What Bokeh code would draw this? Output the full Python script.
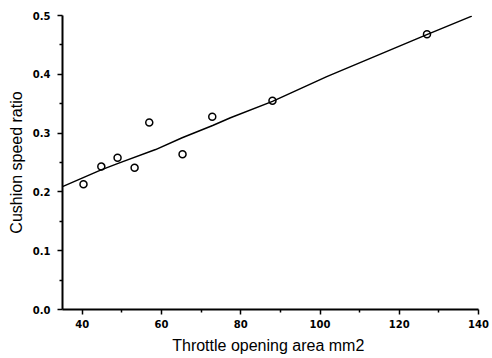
from bokeh.plotting import figure
from bokeh.embed import file_html
from bokeh.resources import INLINE
from bokeh.models import Range1d, FixedTicker, NumeralTickFormatter

# measured points
area = [40.3, 44.8, 48.9, 53.2, 56.9, 65.3, 72.8, 88.0, 127.0]
ratio = [0.213, 0.243, 0.258, 0.241, 0.318, 0.264, 0.328, 0.355, 0.468]

# fitted curve as drawn in the reference
fit_x = [35.0, 44.6, 49.2, 58.5, 65.2, 72.9, 77.4, 88.0, 101.7, 126.8, 138.3]
fit_y = [0.209, 0.237, 0.249, 0.272, 0.292, 0.313, 0.326, 0.354, 0.396, 0.467, 0.499]

x_ticks = [40, 60, 80, 100, 120, 140]
x_minor = [50, 70, 90, 110, 130]
y_ticks = [0.0, 0.1, 0.2, 0.3, 0.4, 0.5]
y_minor = [0.05, 0.15, 0.25, 0.35, 0.45]
x_title = "Throttle opening area  mm2"
y_title = "Cushion speed ratio"

p = figure(width=492, height=358, output_backend="svg", toolbar_location=None,
           x_range=Range1d(35, 140), y_range=Range1d(0, 0.5),
           min_border_left=62, min_border_right=14, min_border_top=15, min_border_bottom=49)
p.outline_line_color = None
p.grid.grid_line_color = None
p.background_fill_color = "white"
p.border_fill_color = "white"

p.line(fit_x, fit_y, line_color="black", line_width=1.5)
p.scatter(area, ratio, marker="circle", size=7, fill_color=None,
          line_color="black", line_width=1.5)

for ax in (p.xaxis[0], p.yaxis[0]):
    ax.axis_line_width = 2
    ax.axis_line_color = "black"
    ax.major_tick_line_width = 1.5
    ax.minor_tick_line_width = 1.5
    ax.major_tick_out = 5
    ax.major_tick_in = 0
    ax.minor_tick_out = 3
    ax.minor_tick_in = 0
    ax.major_label_text_font = "DejaVu Sans"
    ax.major_label_text_font_style = "bold"
    ax.major_label_text_font_size = "10px"
    ax.major_label_text_color = "black"
    ax.axis_label_text_font = "Liberation Sans"
    ax.axis_label_text_font_style = "normal"
    ax.axis_label_text_font_size = "16px"
    ax.axis_label_text_color = "black"

p.xaxis.ticker = FixedTicker(ticks=x_ticks, minor_ticks=x_minor)
p.yaxis.ticker = FixedTicker(ticks=y_ticks, minor_ticks=y_minor)
p.yaxis.formatter = NumeralTickFormatter(format="0.0")
p.xaxis.axis_label = x_title
p.yaxis.axis_label = y_title
p.xaxis.major_label_standoff = 5
p.yaxis.major_label_standoff = 7
p.xaxis.axis_label_standoff = 6
p.yaxis.axis_label_standoff = 5

open("out.html", "w").write(file_html(p, INLINE))
